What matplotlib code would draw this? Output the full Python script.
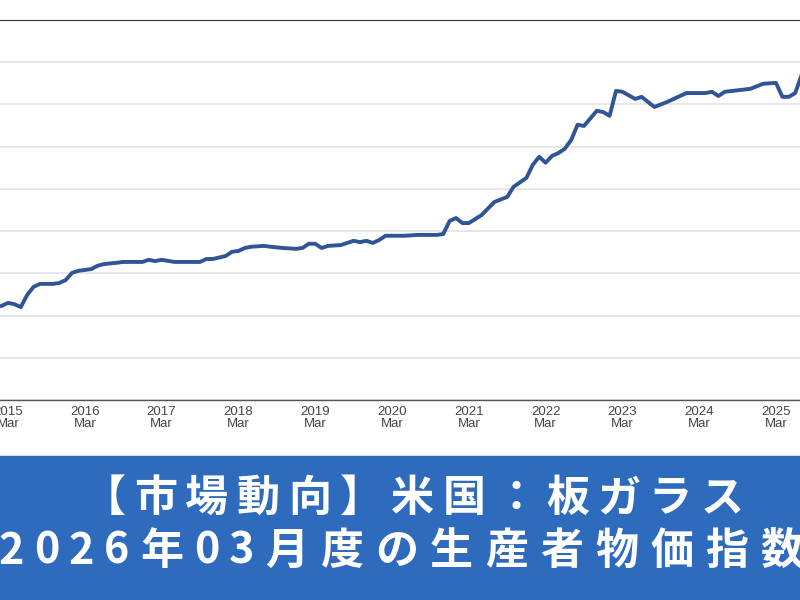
import matplotlib
matplotlib.use("Agg")
import matplotlib.pyplot as plt
from matplotlib.patches import Rectangle

# months after 2015-03
months = [-1,0,1,2,3,4,5,7,8,9,10,11,13,14,15,17,18,21,22,23,24,26,30,31,32,34,35,36,37,38,40,41,43,45,46,47,48,49,50,52,53,54,55,56,57,58,59,60,62,64,67,68,
          69,70,71,72,74,76,78,79,81,82,83,84,85,86,87,88,89,90,92,93,94,95,96,98,99,101,103,106,109,110,111,112,116,118,120,121,122,123,124]
values = [22.3,23.0,22.7,22.0,24.9,26.8,27.5,27.5,27.7,28.4,30.1,30.6,31.0,31.8,32.2,32.5,32.7,32.7,33.2,32.9,33.2,32.7,32.7,33.4,33.4,34.1,35.1,35.3,36.0,36.3,36.5,36.3,36.0,35.8,36.0,37.0,37.0,36.0,36.5,36.7,37.2,37.7,37.4,37.7,37.2,37.9,38.9,38.9,38.9,39.1,39.1,39.3,
          42.4,43.1,41.9,41.9,43.8,46.9,48.1,50.5,52.6,55.7,57.6,56.2,57.8,58.5,59.5,61.6,65.2,64.9,68.5,68.2,67.3,73.2,73.0,71.3,71.8,69.4,70.6,72.7,72.7,73.0,72.0,73.0,73.7,74.9,75.1,71.8,71.8,72.7,77.0]
tick_pos = [0,12,24,36,48,60,72,84,96,108,120]
tick_labels = [f"{y}\nMar" for y in range(2015, 2026)]
title1 = "【市場動向】米国：板ガラス"
title2 = "2026年03月度の生産者物価指数"

fig = plt.figure(figsize=(8, 6), dpi=100)
ax = fig.add_axes([0, 1 - 400/600, 1, 380/600])
ax.plot(months, values, color="#2f5597", lw=2.8, solid_joinstyle="round")
ax.set_xlim(-1.25, 123.75)
ax.set_ylim(0, 90)
ax.set_yticks(range(0, 91, 10))
ax.set_yticklabels([])
ax.tick_params(axis="y", length=0)
ax.grid(axis="y", color="#e3e3e3", lw=1.2)
ax.set_axisbelow(True)
ax.set_xticks(tick_pos)
ax.set_xticklabels(tick_labels, fontsize=9.5, color="#444444", family="Liberation Sans", linespacing=1.1)
ax.tick_params(axis="x", length=0, pad=4)
for s in ["left", "right"]:
    ax.spines[s].set_visible(False)
ax.spines["top"].set_color("#333333"); ax.spines["top"].set_linewidth(0.8)
ax.spines["bottom"].set_color("#555555"); ax.spines["bottom"].set_linewidth(1.0)

fig.patches.append(Rectangle((0, 0), 1, 144/600, transform=fig.transFigure, color="#2f6bbd", zorder=0))

def draw_line(text, start_x, y, wide, narrow):
    x = start_x
    for ch in text:
        w = narrow if ch.isascii() else wide
        fig.text((x + w/2)/800, 1 - y/600, ch, ha="center", va="center", color="white",
                 fontsize=31, fontweight="bold", family=["Noto Sans CJK JP", "DejaVu Sans"])
        x += w

draw_line(title1, 78, 498, 51.5, 38)
draw_line(title2, -6, 551, 55, 35)
fig.savefig("out.png", dpi=100)
